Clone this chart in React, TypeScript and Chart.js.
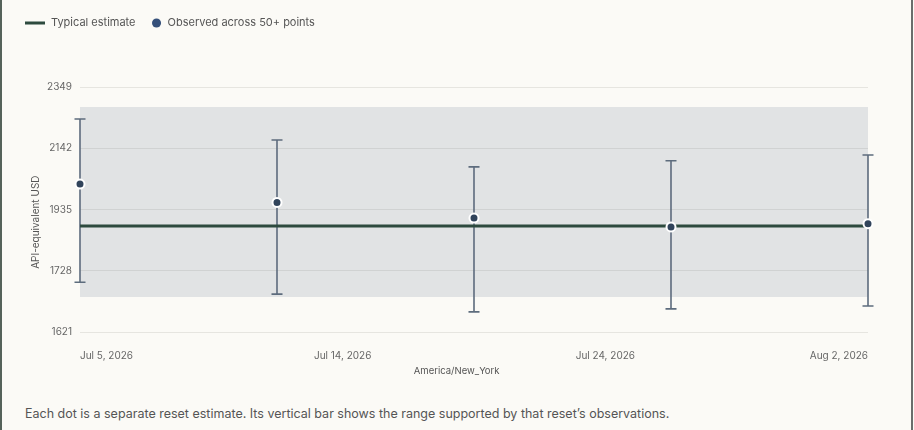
import React, { useEffect, useRef } from "react";
import { Chart, registerables } from "chart.js";

Chart.register(...registerables);

// ---- data ----
const resetDates = ["2026-07-05", "2026-07-12", "2026-07-19", "2026-07-26", "2026-08-02"];
const resetEstimates = [2021, 1959, 1906, 1876, 1887];
const rangeLows = [1689, 1649, 1589, 1599, 1609];
const rangeHighs = [2241, 2170, 2079, 2100, 2119];
const typicalEstimate = 1879;
const typicalBandLow = 1639;
const typicalBandHigh = 2281;
const yTickValues = [1521, 1728, 1935, 2142, 2349];
const yTickLabels = ["1621", "1728", "1935", "2142", "2349"];
const xTickCount = 4;
const legendLabels = ["Typical estimate", "Observed across 50+ points"];
const xAxisTitle = "America/New_York";
const yAxisTitle = "API-equivalent USD";
const caption =
  "Each dot is a separate reset estimate. Its vertical bar shows the range supported by that reset\u2019s observations.";

const MONTHS = ["Jan", "Feb", "Mar", "Apr", "May", "Jun", "Jul", "Aug", "Sep", "Oct", "Nov", "Dec"];
const DAY = 86400000;
const toMs = (s: string) => {
  const [y, m, d] = s.split("-").map(Number);
  return Date.UTC(y, m - 1, d);
};
const fmtDate = (v: number) => {
  const d = new Date(Math.round(v / DAY) * DAY);
  return `${MONTHS[d.getUTCMonth()]} ${d.getUTCDate()}, ${d.getUTCFullYear()}`;
};
const pad = (s: string, n: number) => s + "\u00a0".repeat(n);

const FONT = "Inter, 'Noto Sans', sans-serif";
const LINE_COLOR = "#2d4a3e";
const DOT_COLOR = "#31445b";
const LEGEND_DOT = "#35507a";
const BAR_COLOR = "#5d6c7d";

export default function App() {
  const ref = useRef<HTMLCanvasElement | null>(null);

  useEffect(() => {
    if (!ref.current) return;
    const xs = resetDates.map(toMs);
    const xMin = xs[0];
    const xMax = xs[xs.length - 1];

    // legend line marker image
    const lineImg = document.createElement("canvas");
    lineImg.width = 30;
    lineImg.height = 4;
    const lc = lineImg.getContext("2d")!;
    lc.fillStyle = LINE_COLOR;
    lc.fillRect(0, 0.5, 20, 3);

    const errorBars = {
      id: "errorBars",
      beforeDatasetDraw(chart: any, args: any) {
        if (args.index !== 1) return;
        const { ctx, scales } = chart;
        const xS = scales.x;
        const yS = scales.y;
        ctx.save();
        ctx.strokeStyle = BAR_COLOR;
        ctx.lineWidth = 1.6;
        xs.forEach((xv, i) => {
          const px = xS.getPixelForValue(xv);
          const top = yS.getPixelForValue(rangeHighs[i]);
          const bot = yS.getPixelForValue(rangeLows[i]);
          ctx.beginPath();
          ctx.moveTo(px, top);
          ctx.lineTo(px, bot);
          ctx.moveTo(px - 5.5, top);
          ctx.lineTo(px + 5.5, top);
          ctx.moveTo(px - 5.5, bot);
          ctx.lineTo(px + 5.5, bot);
          ctx.stroke();
        });
        ctx.restore();
      },
    };

    const chart = new Chart(ref.current, {
      type: "line",
      data: {
        datasets: [
          {
            label: legendLabels[1],
            data: xs.map((x, i) => ({ x, y: resetEstimates[i] })),
            showLine: false,
            clip: false,
            pointRadius: 4.5,
            pointBackgroundColor: DOT_COLOR,
            pointBorderColor: "#ffffff",
            pointBorderWidth: 2,
          } as any,
          {
            label: legendLabels[0],
            data: [
              { x: xMin, y: typicalEstimate },
              { x: xMax, y: typicalEstimate },
            ],
            borderColor: LINE_COLOR,
            borderWidth: 3,
            pointRadius: 0,
          },
          {
            label: "band-high",
            data: [
              { x: xMin, y: typicalBandHigh },
              { x: xMax, y: typicalBandHigh },
            ],
            borderWidth: 0,
            borderColor: "rgba(0,0,0,0)",
            pointRadius: 0,
          },
          {
            label: "band-low",
            data: [
              { x: xMin, y: typicalBandLow },
              { x: xMax, y: typicalBandLow },
            ],
            borderWidth: 0,
            borderColor: "rgba(0,0,0,0)",
            pointRadius: 0,
            fill: "-1",
            backgroundColor: "rgba(100,116,139,0.165)",
          },
        ],
      },
      options: {
        animation: false,
        responsive: false,
        devicePixelRatio: 1,
        layout: { padding: { left: 19, right: 46, top: 2, bottom: 3 } },
        plugins: {
          tooltip: { enabled: false },
          title: {
            display: true,
            text: " ",
            font: { size: 10, lineHeight: 1 },
            padding: { top: 38.5, bottom: 0 },
          },
          legend: {
            display: true,
            position: "top",
            align: "start",
            weight: 3000,
            labels: {
              usePointStyle: true,
              boxHeight: 6.4,
              padding: 15.5,
              color: "#555555",
              font: { family: FONT, size: 11 },
              generateLabels: () => [
                {
                  text: legendLabels[0],
                  pointStyle: lineImg as any,
                  fillStyle: LINE_COLOR,
                  strokeStyle: LINE_COLOR,
                  lineWidth: 0,
                  hidden: false,
                  datasetIndex: 1,
                  fontColor: "#555555",
                },
                {
                  text: legendLabels[1],
                  pointStyle: "circle",
                  fillStyle: LEGEND_DOT,
                  strokeStyle: LEGEND_DOT,
                  lineWidth: 0,
                  hidden: false,
                  datasetIndex: 0,
                  fontColor: "#555555",
                },
              ],
            },
          } as any,
        },
        scales: {
          x: {
            type: "linear",
            min: xMin,
            max: xMax,
            grid: { display: false, drawTicks: false },
            border: { display: false },
            afterBuildTicks: (scale: any) => {
              const t = [];
              for (let i = 0; i < xTickCount; i++) {
                t.push({ value: xMin + (i * (xMax - xMin)) / (xTickCount - 1) });
              }
              scale.ticks = t;
            },
            afterFit: (scale: any) => {
              scale.height = 45;
            },
            ticks: {
              align: "inner",
              padding: 18,
              maxRotation: 0,
              autoSkip: false,
              color: "#666666",
              font: { family: FONT, size: 10 },
              callback: (v: any) => fmtDate(Number(v)),
            },
            title: {
              display: true,
              text: pad(xAxisTitle, 13),
              color: "#555555",
              font: { family: FONT, size: 9.5, lineHeight: 1.2 },
              padding: { top: 0, bottom: 0 },
            },
          } as any,
          y: {
            type: "linear",
            min: yTickValues[0],
            max: yTickValues[yTickValues.length - 1],
            grid: { color: "#e6e5e0", lineWidth: 1, drawTicks: false },
            border: { display: false },
            afterBuildTicks: (scale: any) => {
              scale.ticks = yTickValues.map((value) => ({ value }));
            },
            afterFit: (scale: any) => {
              scale.width = 61;
            },
            ticks: {
              padding: 8,
              color: "#666666",
              font: { family: FONT, size: 10 },
              callback: (v: any) => {
                const i = yTickValues.indexOf(Number(v));
                return i >= 0 ? yTickLabels[i] : "";
              },
            },
            title: {
              display: true,
              text: pad(yAxisTitle, 9),
              color: "#555555",
              font: { family: FONT, size: 10, lineHeight: 1.2 },
              padding: { top: 11, bottom: 0 },
            },
          } as any,
        },
      },
      plugins: [errorBars],
    });
    return () => chart.destroy();
  }, []);

  return (
    <div
      style={{
        position: "fixed",
        left: 0,
        top: 0,
        width: 914,
        height: 430,
        background: "#fbfaf6",
        overflow: "hidden",
      }}
    >
      <div style={{ position: "absolute", left: 0, top: 0, width: 2, height: 430, background: "#55625a" }} />
      <div style={{ position: "absolute", left: 911, top: 0, width: 2, height: 430, background: "#6a6d6c" }} />
      <canvas
        ref={ref}
        width={914}
        height={380}
        style={{ position: "absolute", left: 0, top: 0, width: 914, height: 380 }}
      />
      <div
        style={{
          position: "absolute",
          left: 25,
          top: 405,
          fontFamily: FONT,
          fontSize: 12.5,
          lineHeight: "18px",
          color: "#555555",
          whiteSpace: "nowrap",
        }}
      >
        {caption}
      </div>
    </div>
  );
}
